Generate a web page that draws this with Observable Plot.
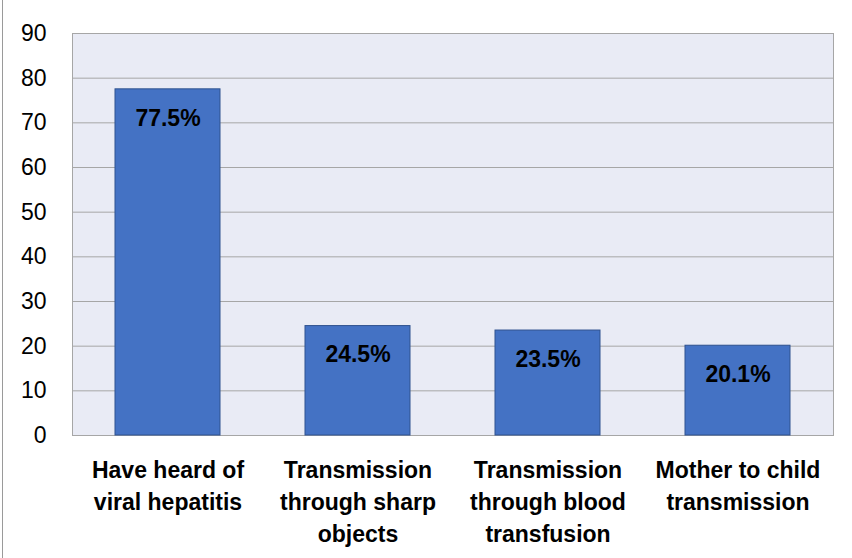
<!DOCTYPE html>
<html>
<head>
<meta charset="utf-8">
<script src="https://cdn.jsdelivr.net/npm/d3@7"></script>
<script src="https://cdn.jsdelivr.net/npm/@observablehq/plot@0.6"></script>
<style>
  html, body { margin: 0; padding: 0; background: #fff; }
  #wrap { width: 852px; height: 558px; position: relative; overflow: hidden; }
  #wrap::before { content: ""; position: absolute; left: 2px; top: 0; bottom: 0; border-left: 1px solid #9a9a9a; }
</style>
</head>
<body>
<div id="wrap"></div>
<script>
const categories = ["Have heard of viral hepatitis", "Transmission through sharp objects", "Transmission through blood transfusion", "Mother to child transmission"];
const tickLabels = ["Have heard of\nviral hepatitis", "Transmission\nthrough sharp\nobjects", "Transmission\nthrough blood\ntransfusion", "Mother to child\ntransmission"];
const values = [77.5, 24.5, 23.5, 20.1];
const valueLabels = ["77.5%", "24.5%", "23.5%", "20.1%"];
const yTicks = [0, 10, 20, 30, 40, 50, 60, 70, 80, 90];

const data = categories.map((c, i) => ({cat: c, value: values[i], label: valueLabels[i], tick: tickLabels[i]}));
const tickMap = new Map(data.map(d => [d.cat, d.tick]));

const chart = Plot.plot({
  width: 852,
  height: 558,
  marginLeft: 72,
  marginRight: 19,
  marginTop: 33,
  marginBottom: 123,
  style: {fontFamily: "'Liberation Sans', Arial, sans-serif", background: "transparent", color: "#000"},
  x: {domain: categories, paddingInner: 0.445, paddingOuter: 0.2225, label: null},
  y: {domain: [0, 90], label: null},
  marks: [
    Plot.frame({fill: "#E9EBF5", stroke: "none"}),
    Plot.gridY(yTicks, {stroke: "#A6A6A6", strokeOpacity: 1, strokeWidth: 1}),
    Plot.frame({stroke: "#A6A6A6", fill: "none"}),
    Plot.barY(data, {x: "cat", y: "value", fill: "#4472C4", stroke: "#2F528F", strokeWidth: 1}),
    Plot.text(data, {x: "cat", y: "value", text: "label", dy: 29, fontSize: 23, fontWeight: "bold", fill: "#000"}),
    Plot.axisY(yTicks, {tickSize: 0, tickPadding: 26, fontSize: 23, label: null, fill: "#000"}),
    Plot.axisX({tickSize: 0, tickPadding: 20, fontSize: 23, fontWeight: "bold", lineHeight: 1.39, tickFormat: d => tickMap.get(d), label: null, fill: "#000"})
  ]
});
document.getElementById("wrap").appendChild(chart);
</script>
</body>
</html>
